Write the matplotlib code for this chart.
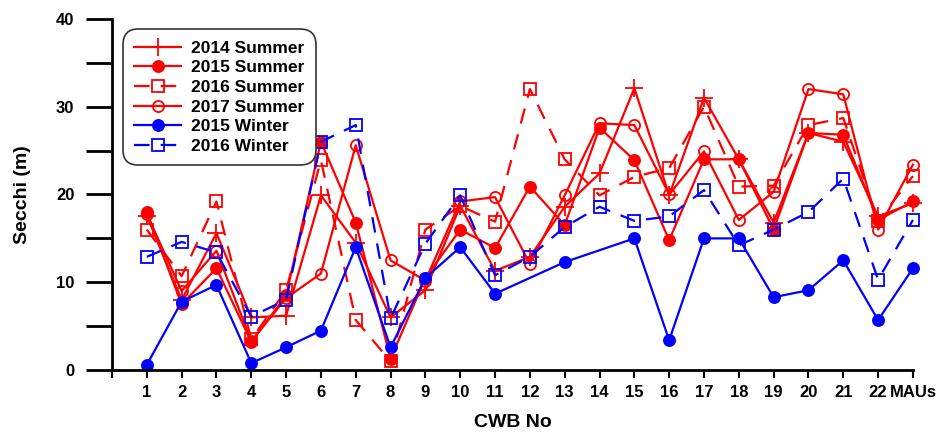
import matplotlib
matplotlib.use('Agg')
import matplotlib.pyplot as plt
import numpy as np

plt.rcParams['font.family'] = ['Liberation Sans', 'DejaVu Sans']
plt.rcParams['font.weight'] = 'bold'

stations = [str(i) for i in range(1, 23)] + ['MAUs']

summer_2014 = [17.6, 8.0, 15.6, 6.0, 6.2, 19.9, 14.5, 6.0, 9.1, 18.7, 11.3, 12.9,
               18.6, 22.4, 32.1, 19.9, 31.0, 24.0, 16.8, 27.0, 26.0, 17.5, 19.0]
summer_2015 = [18.0, 7.5, 11.6, 3.2, 8.5, 26.0, 16.8, 1.3, 10.5, 16.0, 13.9, 20.9,
               16.5, 27.6, 23.9, 14.8, 24.0, 24.0, 16.0, 27.0, 26.8, 17.1, 19.2]
summer_2016 = [16.0, 10.7, 19.2, 3.5, 9.1, 23.9, 5.7, 1.0, 16.0, 18.7, 16.9, 32.0,
               24.0, 19.9, 22.0, 23.0, 30.0, 20.9, 21.0, 27.9, 28.7, 17.0, 22.1]
summer_2017 = [17.8, 9.0, 13.6, 3.3, 8.2, 11.0, 25.6, 12.5, 10.2, 19.2, 19.7, 12.1,
               19.9, 28.1, 27.9, 20.0, 24.9, 17.1, 20.3, 32.0, 31.4, 16.0, 23.4]
winter_2015 = [0.6, 7.8, 9.7, 0.8, 2.6, 4.5, 14.0, 2.6, 10.5, 14.0, 8.7, np.nan,
               12.3, np.nan, 15.0, 3.4, 15.0, 15.0, 8.3, 9.1, 12.5, 5.7, 11.6]
winter_2016 = [12.9, 14.6, 13.4, 6.1, 8.0, 26.0, 27.9, 5.9, 14.4, 19.9, 10.8, 12.9,
               16.3, 18.6, 17.0, 17.5, 20.5, 14.2, 16.0, 18.0, 21.8, 10.3, 17.1]

x = np.arange(1, len(stations) + 1)

fig = plt.figure(figsize=(9.49, 4.37), dpi=100)
ax = fig.add_axes([0.118, 0.153, 0.844, 0.804])

red = '#ff0000'
blue = '#0000ff'
dash = (0, (7, 5))


def draw(vals, color, marker, ls, fill, label):
    v = np.array(vals, dtype=float)
    ok = ~np.isnan(v)
    ax.plot(x[ok], v[ok], color=color, linestyle=ls, linewidth=1.6,
            marker=marker, markersize=8 if marker != '+' else 13,
            markerfacecolor=color if fill else 'none',
            markeredgecolor=color, markeredgewidth=1.3, label=label,
            clip_on=False)


draw(summer_2014, red, '+', '-', False, '2014 Summer')
draw(summer_2015, red, 'o', '-', True, '2015 Summer')
draw(summer_2016, red, 's', dash, False, '2016 Summer')
draw(summer_2017, red, 'o', '-', False, '2017 Summer')
draw(winter_2015, blue, 'o', '-', True, '2015 Winter')
draw(winter_2016, blue, 's', dash, False, '2016 Winter')

ax.set_xlim(0, 23)
ax.set_ylim(0, 40)
ax.set_xticks(np.arange(0, 24))
ax.set_xticklabels([''] + stations)
ax.set_yticks([0, 10, 20, 30, 40])
ax.set_yticks([5, 15, 25, 35], minor=True)

for s in ['top', 'right']:
    ax.spines[s].set_visible(False)
for s in ['left', 'bottom']:
    ax.spines[s].set_linewidth(2)

ax.tick_params(axis='y', which='major', direction='out', length=19, width=2,
               labelsize=12, pad=8)
ax.tick_params(axis='y', which='minor', direction='out', length=19, width=2)
ax.tick_params(axis='x', which='major', direction='out', length=6, width=1.5,
               labelsize=12, pad=5)
for lab in ax.get_xticklabels() + ax.get_yticklabels():
    lab.set_fontweight('bold')

ax.set_xlabel('CWB No', fontsize=14, fontweight='bold', labelpad=10)
ax.set_ylabel('Secchi (m)', fontsize=14, fontweight='bold', labelpad=18)

leg = ax.legend(loc='upper left', bbox_to_anchor=(0.007, 0.985), fontsize=12.5,
                frameon=True, fancybox=True, handlelength=2.7,
                borderpad=0.45, labelspacing=0.26, handletextpad=0.6)
leg.get_frame().set_edgecolor('#333333')
leg.get_frame().set_linewidth(1.2)
leg.get_frame().set_alpha(1)
leg.get_frame().set_boxstyle('round,pad=0.2,rounding_size=0.9')
for t in leg.get_texts():
    t.set_fontweight('bold')

fig.savefig('out.png', dpi=100)
